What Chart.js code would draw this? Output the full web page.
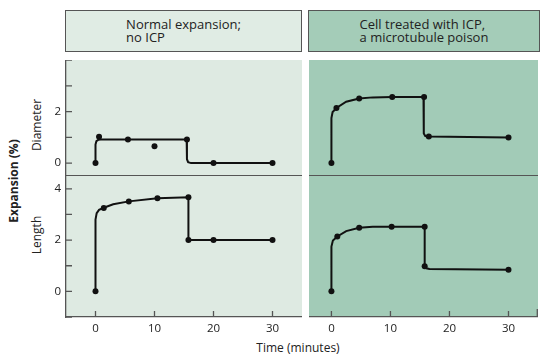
<!DOCTYPE html>
<html>
<head>
<meta charset="utf-8">
<script src="https://cdn.jsdelivr.net/npm/chart.js@4.4.1/dist/chart.umd.min.js"></script>
<style>
body { margin: 0; background: #fff; font-family: "Open Sans", sans-serif; color: #222; }
#wrap { position: relative; width: 547px; height: 361px; overflow: hidden; }
.box { position: absolute; top: 10px; height: 42px; box-sizing: border-box; border: 1.5px solid #555;
       display: flex; align-items: center; justify-content: center; font-size: 13px; line-height: 13px; }
.lbl { position: absolute; white-space: nowrap; font-size: 12px; transform: translate(-50%, -50%); }
.rot { transform: translate(-50%, -50%) rotate(-90deg); }
canvas { position: absolute; }
</style>
</head>
<body>
<div id="wrap">
  <div class="box" style="left:65px;width:237px;background:#e0ece4;"><div>Normal expansion;<br>no ICP</div></div>
  <div class="box" style="left:308px;width:232px;background:#a4ccb8;"><div>Cell treated with ICP,<br>a microtubule poison</div></div>
  <div class="lbl rot" style="left:12.5px;top:181px;font-weight:bold;">Expansion (%)</div>
  <div class="lbl rot" style="left:36px;top:125px;">Diameter</div>
  <div class="lbl rot" style="left:36px;top:235px;">Length</div>
  <div class="lbl" style="left:298px;top:347px;">Time (minutes)</div>
  <canvas id="normDiam" width="262" height="116" style="left:40px;top:60px;"></canvas>
  <canvas id="normLen" width="262" height="161" style="left:40px;top:176px;"></canvas>
  <canvas id="icpDiam" width="229" height="116" style="left:309px;top:60px;"></canvas>
  <canvas id="icpLen" width="229" height="161" style="left:309px;top:176px;"></canvas>
</div>
<script>
// tick positions and labels
const xTicks = [0, 10, 20, 30];
const diamTicks = [0, 1, 2, 3, 4];
const diamLabels = [0, 2];
const lenTicks = [-1, 0, 1, 2, 3, 4];
const lenLabels = [0, 2, 4];

// normal expansion, no ICP - measured points
const normDiamT = [0, 0.6, 5.5, 10, 15.5, 20, 30];
const normDiamV = [0, 1.02, 0.92, 0.65, 0.92, 0, 0];
const normLenT = [0, 1.4, 5.65, 10.5, 15.75, 15.75, 20, 30];
const normLenV = [0, 3.25, 3.51, 3.63, 3.67, 2.0, 2.0, 2.0];
// normal expansion - drawn curves
const normDiamCurveT = [0, 0, 0.15, 0.5, 0.9, 15.45, 15.5, 15.7, 16.2, 30];
const normDiamCurveV = [0, 0.72, 0.85, 0.91, 0.92, 0.92, 0.15, 0.04, 0, 0];
const normLenCurveT = [0, 0, 0.2, 0.6, 1.4, 3, 5.65, 10.5, 15.75, 15.75, 30];
const normLenCurveV = [0, 2.8, 3.05, 3.18, 3.26, 3.4, 3.51, 3.63, 3.67, 2.0, 2.0];

// cell treated with ICP - measured points
const icpDiamT = [0, 0.85, 4.7, 10.3, 15.7, 16.5, 30];
const icpDiamV = [0, 2.14, 2.51, 2.56, 2.56, 1.03, 0.99];
const icpLenT = [0, 1.0, 4.7, 10.2, 15.8, 15.8, 30];
const icpLenV = [0, 2.14, 2.48, 2.52, 2.52, 0.98, 0.84];
// treated - drawn curves
const icpDiamCurveT = [0, 0, 0.2, 0.85, 2.5, 4.7, 7, 10.3, 15.6, 15.65, 15.9, 16.5, 30];
const icpDiamCurveV = [0, 1.75, 1.98, 2.14, 2.38, 2.51, 2.55, 2.56, 2.56, 1.15, 1.05, 1.03, 0.99];
const icpLenCurveT = [0, 0, 0.25, 1.0, 2.5, 4.7, 7, 15.8, 15.8, 16.1, 16.6, 30];
const icpLenCurveV = [0, 1.75, 1.98, 2.14, 2.35, 2.48, 2.52, 2.52, 1.0, 0.9, 0.87, 0.84];

const axisColor = '#555';
const inkColor = '#111';
const normalBg = '#deeae2';
const icpBg = '#a2cbb7';

function pts(t, v) {
    return t.map((x, i) => ({x: x, y: v[i]}));
}

function noPadding(scale) {
    scale.paddingTop = 0;
    scale.paddingBottom = 0;
    scale.paddingLeft = 0;
    scale.paddingRight = 0;
}

// panel background and inward tick marks
const panelDecor = {
    id: 'panelDecor',
    beforeDraw(chart, args, opts) {
        const a = chart.chartArea;
        const ctx = chart.ctx;
        ctx.save();
        ctx.fillStyle = opts.bg;
        ctx.fillRect(a.left, a.top, a.right - a.left, a.bottom - a.top);
        ctx.restore();
    },
    afterDraw(chart, args, opts) {
        const a = chart.chartArea;
        const ctx = chart.ctx;
        const sx = chart.scales.x, sy = chart.scales.y;
        ctx.save();
        ctx.strokeStyle = axisColor;
        ctx.lineWidth = 1.3;
        ctx.beginPath();
        if (opts.yTicks) {
            sy.ticks.forEach(t => {
                const p = sy.getPixelForValue(t.value);
                ctx.moveTo(a.left, p);
                ctx.lineTo(a.left + 6, p);
            });
        }
        if (opts.xTicks) {
            sx.ticks.forEach(t => {
                const p = sx.getPixelForValue(t.value);
                ctx.moveTo(p, a.bottom);
                ctx.lineTo(p, a.bottom - 6);
            });
        }
        if (opts.edgeTick) {
            ctx.moveTo(a.right - 0.7, a.bottom);
            ctx.lineTo(a.right - 0.7, a.bottom - 8);
        }
        ctx.stroke();
        ctx.restore();
    }
};

function makePanel(id, cfg) {
    const tickFont = {family: 'Open Sans', size: 11.5};
    new Chart(document.getElementById(id), {
        type: 'scatter',
        data: {
            datasets: [
                {data: pts(cfg.curveT, cfg.curveV), showLine: true, borderColor: inkColor,
                 borderWidth: 2, pointRadius: 0, tension: 0, fill: false},
                {data: pts(cfg.t, cfg.v), showLine: false, pointRadius: 3,
                 pointBackgroundColor: inkColor, pointBorderWidth: 0}
            ]
        },
        options: {
            responsive: false,
            animation: false,
            layout: {padding: 0, autoPadding: false},
            scales: {
                x: {
                    type: 'linear', min: cfg.xMin, max: 35,
                    afterBuildTicks: scale => { scale.ticks = xTicks.map(v => ({value: v})); },
                    afterFit: scale => { scale.height = cfg.bottom ? 20 : 0; noPadding(scale); },
                    grid: {drawOnChartArea: false, drawTicks: false},
                    border: {color: axisColor, width: 1.3},
                    ticks: {display: cfg.bottom, padding: 5, color: '#222', font: tickFont, maxRotation: 0}
                },
                y: {
                    type: 'linear', min: cfg.yMin, max: cfg.yMax,
                    afterBuildTicks: scale => { scale.ticks = cfg.yTicks.map(v => ({value: v})); },
                    afterFit: scale => { scale.width = cfg.left ? 26 : 0; noPadding(scale); },
                    grid: {drawOnChartArea: false, drawTicks: false},
                    border: {display: cfg.left, color: axisColor, width: 1.3},
                    ticks: {display: cfg.left, padding: 5, color: '#222', font: tickFont,
                            callback: v => cfg.yLabels.includes(v) ? String(v) : ''}
                }
            },
            plugins: {
                legend: {display: false},
                tooltip: {enabled: false},
                panelDecor: {bg: cfg.bg, yTicks: cfg.left, xTicks: cfg.bottom,
                             edgeTick: cfg.bottom && !cfg.left}
            }
        },
        plugins: [panelDecor]
    });
}

makePanel('normDiam', {t: normDiamT, v: normDiamV, curveT: normDiamCurveT, curveV: normDiamCurveV,
    xMin: -5, yMin: -0.5, yMax: 4, yTicks: diamTicks, yLabels: diamLabels,
    left: true, bottom: false, bg: normalBg});
makePanel('normLen', {t: normLenT, v: normLenV, curveT: normLenCurveT, curveV: normLenCurveV,
    xMin: -5, yMin: -1, yMax: 4.5, yTicks: lenTicks, yLabels: lenLabels,
    left: true, bottom: true, bg: normalBg});
makePanel('icpDiam', {t: icpDiamT, v: icpDiamV, curveT: icpDiamCurveT, curveV: icpDiamCurveV,
    xMin: -3.8, yMin: -0.5, yMax: 4, yTicks: diamTicks, yLabels: diamLabels,
    left: false, bottom: false, bg: icpBg});
makePanel('icpLen', {t: icpLenT, v: icpLenV, curveT: icpLenCurveT, curveV: icpLenCurveV,
    xMin: -3.8, yMin: -1, yMax: 4.5, yTicks: lenTicks, yLabels: lenLabels,
    left: false, bottom: true, bg: icpBg});
</script>
</body>
</html>
